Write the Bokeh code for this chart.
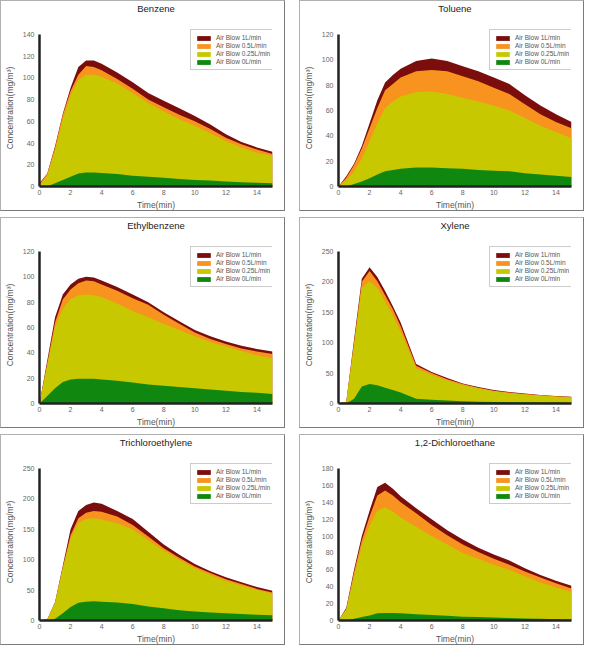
from bokeh.plotting import figure
from bokeh.layouts import row, column
from bokeh.models import FixedTicker, Range1d, Legend, LegendItem, Title
from bokeh.embed import file_html
from bokeh.resources import INLINE

time = [0, 0.5, 1, 1.5, 2, 2.5, 3, 3.5, 4, 5, 6, 7, 8, 9, 10, 11, 12, 13, 14, 15]

series_labels = ["Air Blow 1L/min", "Air Blow 0.5L/min", "Air Blow 0.25L/min", "Air Blow 0L/min"]
series_colors = ["#7b0d0d", "#f7931e", "#c8c800", "#108810"]

titles = ["Benzene", "Toluene", "Ethylbenzene", "Xylene", "Trichloroethylene", "1,2-Dichloroethane"]
y_max = [140, 120, 120, 250, 250, 180]
y_ticks = [
    [0, 20, 40, 60, 80, 100, 120, 140],
    [0, 20, 40, 60, 80, 100, 120],
    [0, 20, 40, 60, 80, 100, 120],
    [0, 50, 100, 150, 200, 250],
    [0, 50, 100, 150, 200, 250],
    [0, 20, 40, 60, 80, 100, 120, 140, 160, 180],
]
x_ticks = [0, 2, 4, 6, 8, 10, 12, 14]

benzene_1L = [3, 12, 37, 67, 91, 110, 116, 116, 113, 105, 96, 86, 79, 72, 65, 57, 48, 41, 36, 32]
benzene_05L = [2, 12, 36, 66, 88, 103, 111, 110, 107, 99, 90, 80, 73, 66, 60, 53, 45, 39, 34, 30]
benzene_025L = [1, 10, 33, 62, 84, 98, 103, 103, 101, 95, 86, 77, 69, 62, 56, 49, 42, 36, 31, 28]
benzene_0L = [0, 0, 3, 6, 9, 12, 13, 13, 12.5, 11.5, 10, 9, 8, 7, 6, 5.5, 4.5, 4, 3.5, 3]

toluene_1L = [0, 8, 18, 32, 50, 68, 82, 88, 93, 99, 101, 99, 95, 91, 86, 81, 72, 64, 57, 51]
toluene_05L = [0, 7, 17, 30, 46, 62, 76, 81, 86, 91, 92, 91, 87, 83, 78, 73, 65, 57, 51, 46]
toluene_025L = [0, 5, 12, 22, 36, 50, 62, 67, 71, 74.5, 75, 73, 70, 67, 64, 60, 54, 48, 43, 38]
toluene_0L = [0, 0, 2, 4, 6.5, 9.5, 12, 13, 14, 15, 15, 14.5, 14, 13, 12.5, 12, 10.5, 9.5, 8.5, 7.5]

ethyl_1L = [0, 34, 68, 86, 94, 98.5, 100, 99.5, 97, 92, 86, 80, 72, 65, 58, 53, 49, 45.5, 43, 41]
ethyl_05L = [0, 32, 64, 82, 90, 95, 97, 96.5, 94, 89, 83, 78, 70, 63, 56, 51, 47, 43.5, 41, 39]
ethyl_025L = [0, 30, 60, 75, 82, 85.5, 86, 85.5, 84, 79, 73, 68, 63, 58, 53, 48.5, 45, 41.5, 38, 35.5]
ethyl_0L = [0, 6, 12, 17, 19, 19.5, 19.5, 19.5, 19, 18, 16.5, 15, 14, 13, 12, 11, 10, 9, 8.5, 7.5]

xylene_1L = [0, 3, 105, 205, 224, 208, 185, 160, 133, 65, 52, 42, 33, 27, 22, 19, 16.5, 14, 12.5, 11]
xylene_05L = [0, 3, 100, 200, 218, 201, 178, 155, 127, 62, 50, 40, 32, 26, 21, 18, 15.5, 13.5, 12, 10.5]
xylene_025L = [0, 2, 96, 190, 201, 190, 168, 145, 118, 58, 47, 38, 30, 25, 20, 17, 15, 13, 11, 9.5]
xylene_0L = [0, 0, 8, 28, 32, 30, 26, 22, 18, 8, 6, 5, 3.5, 3, 2.5, 2, 2, 1.5, 1.5, 1]

tce_1L = [0, 2, 30, 90, 150, 180, 190, 194, 192, 180, 167, 146, 125, 108, 93, 81, 71, 63, 55, 49]
tce_05L = [0, 2, 30, 88, 140, 168, 177, 180, 179, 171, 157, 138, 119, 103, 89, 78, 68, 60, 52, 46]
tce_025L = [0, 2, 28, 85, 135, 160, 167, 168, 166, 160, 150, 132, 115, 100, 86, 75, 65, 57, 50, 44]
tce_0L = [0, 0, 3, 12, 22, 29, 31, 31.5, 31, 29.5, 27, 23, 20, 17, 15, 13, 12, 10.5, 9.5, 8.5]

dce_1L = [0, 15, 60, 100, 130, 158, 163, 156, 147, 133, 120, 107, 96, 86, 78, 71, 62, 54, 47, 41]
dce_05L = [0, 14, 57, 95, 123, 148, 154, 148, 140, 127, 113, 101, 90, 81, 73, 66, 58, 51, 44, 38]
dce_025L = [0, 13, 52, 88, 112, 130, 134, 129, 122, 111, 100, 90, 80, 73, 66, 60, 52, 45, 39, 34]
dce_0L = [0, 0, 2, 4, 6, 8.5, 9, 9, 8.5, 7.5, 6.5, 5.5, 4.5, 4, 3.5, 3, 2.5, 2, 1.5, 1]

panel_series = [
    [benzene_1L, benzene_05L, benzene_025L, benzene_0L],
    [toluene_1L, toluene_05L, toluene_025L, toluene_0L],
    [ethyl_1L, ethyl_05L, ethyl_025L, ethyl_0L],
    [xylene_1L, xylene_05L, xylene_025L, xylene_0L],
    [tce_1L, tce_05L, tce_025L, tce_0L],
    [dce_1L, dce_05L, dce_025L, dce_0L],
]

FONT = "Liberation Sans"
W, H = 283, 209
ML, MR, MT, MB = 35, 14, 26, 25
HEADROOM = 5  # px of frame above the top tick, where the legend reaches


def make_panel(i):
    fh = H - MT - MB
    data_h = fh - HEADROOM
    y_top = y_max[i] * fh / data_h
    p = figure(width=W, height=H, output_backend="svg", toolbar_location=None,
               title=None,
               x_range=Range1d(0, 15), y_range=Range1d(0, y_top),
               min_border_left=ML, min_border_right=MR, min_border_top=MT, min_border_bottom=MB,
               background_fill_color="white", border_fill_color="white",
               styles={"border-top": "1px solid #b0b0b0", "border-left": "1px solid #b0b0b0",
                       "border-right": "1px solid #7a7a7a", "border-bottom": "1px solid #7a7a7a",
                       "box-sizing": "content-box"})
    p.outline_line_color = None
    p.grid.visible = False

    items = []
    for s, lab, col in zip(panel_series[i], series_labels, series_colors):
        r = p.varea(x=time, y1=0, y2=s, fill_color=col, fill_alpha=1.0)
        items.append(LegendItem(label=lab, renderers=[r]))

    for ax in (p.xaxis[0], p.yaxis[0]):
        ax.axis_line_color = "#222222"
        ax.axis_line_width = 2.5
        ax.major_tick_in = 0
        ax.major_tick_out = 0
        ax.minor_tick_line_color = None
        ax.major_label_text_font = FONT
        ax.major_label_text_font_size = "7px"
        ax.major_label_text_color = "#666666"
        ax.axis_label_text_font = FONT
        ax.axis_label_text_font_size = "8.5px"
        ax.axis_label_text_font_style = "normal"
        ax.axis_label_text_color = "#555555"

    p.xaxis[0].ticker = FixedTicker(ticks=x_ticks)
    p.yaxis[0].ticker = FixedTicker(ticks=y_ticks[i])
    p.yaxis[0].bounds = (0, y_max[i])
    p.xaxis[0].axis_label = "Time(min)"
    p.yaxis[0].axis_label = "Concentration(mg/m³)"
    p.xaxis[0].major_label_standoff = 3
    p.xaxis[0].axis_label_standoff = 2
    p.yaxis[0].major_label_standoff = 5
    p.yaxis[0].axis_label_standoff = 5

    # white spacer next to the frame, then the visible title (outermost)
    spacer = Title(text=".", text_font_size="2px", text_color="white", standoff=12)
    p.add_layout(spacer, "above")
    title = Title(text=titles[i], align="center", vertical_align="middle",
                  text_font=FONT, text_font_size="9.5px", text_font_style="normal",
                  text_color="#222222", standoff=0)
    p.add_layout(title, "above")

    legend = Legend(items=items, location=(151, fh - 42),
                    border_line_color="#999999", border_line_width=1,
                    background_fill_color="white", background_fill_alpha=1.0,
                    label_text_font=FONT, label_text_font_size="6.5px",
                    label_text_color="#555555",
                    glyph_width=17, glyph_height=6, label_height=7,
                    label_standoff=4, spacing=1, padding=4, margin=0)
    p.add_layout(legend, "center")
    return p


panels = [make_panel(i) for i in range(6)]
layout = column(
    row(panels[0], panels[1], spacing=14),
    row(panels[2], panels[3], spacing=14),
    row(panels[4], panels[5], spacing=14),
    spacing=6,
)

open("out.html", "w").write(file_html(layout, INLINE))
